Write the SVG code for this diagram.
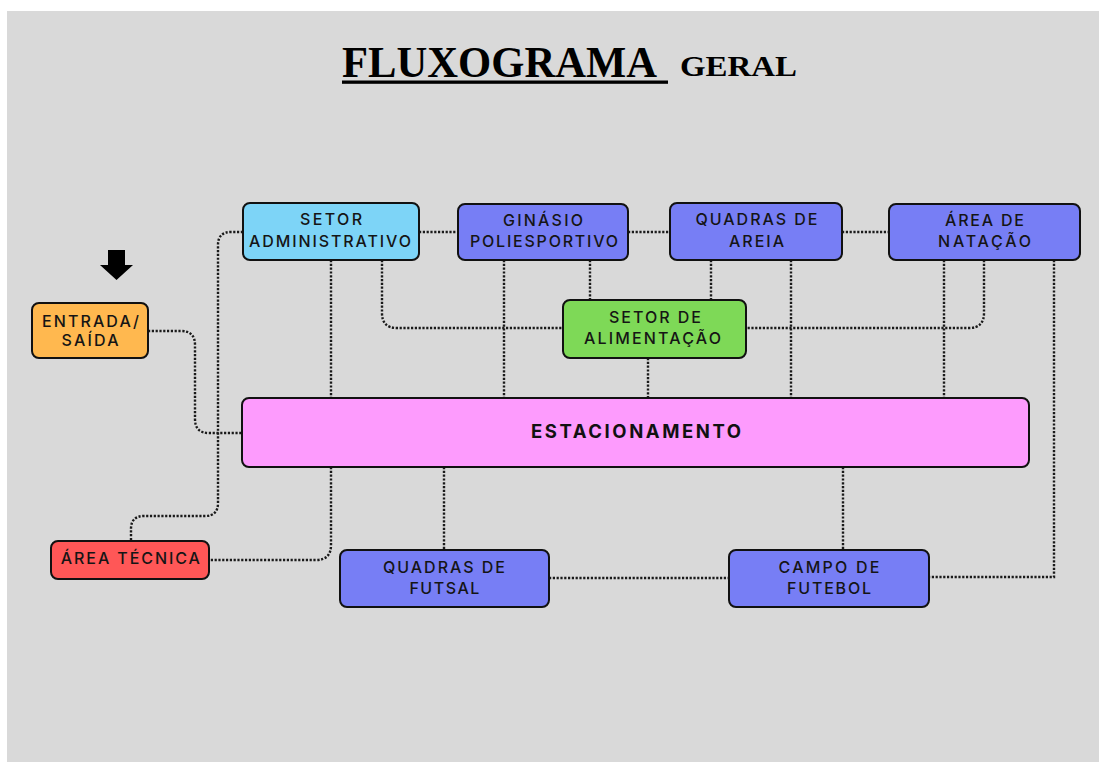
<svg xmlns="http://www.w3.org/2000/svg" width="1099" height="762" viewBox="0 0 1099 762">
<style>
.box{stroke:#111;stroke-width:2}
.lbl{font-family:Inter,"Noto Sans","DejaVu Sans",sans-serif;font-size:16px;font-weight:500;fill:#151515;text-anchor:middle}
.big{font-family:Inter,"Noto Sans","DejaVu Sans",sans-serif;font-size:18.5px;font-weight:bold;fill:#111;text-anchor:middle}
.con{fill:none;stroke:#1a1a1a;stroke-width:2.4;stroke-dasharray:2.2 1.6}
</style>
<rect x="7" y="11" width="1092" height="751" fill="#d9d9d9"/>
<g id="title">
<text x="342" y="77" font-family="Liberation Serif,serif" font-weight="bold" font-size="45" textLength="315" lengthAdjust="spacingAndGlyphs" fill="#000">FLUXOGRAMA</text>
<rect x="342" y="80.5" width="326" height="3.3" fill="#000"/>
<text x="680" y="76" font-family="Liberation Serif,serif" font-weight="bold" font-size="29" textLength="117" lengthAdjust="spacingAndGlyphs" fill="#000">GERAL</text>
</g>
<g id="connectors">
<path class="con" d="M243,232 H231 Q218,232 218,245 V503 Q218,516 205,516 H144 Q131,516 131,529 V541"/>
<path class="con" d="M148,331 H181 Q195,331 195,345 V419 Q195,433 209,433 H242"/>
<path class="con" d="M419,232 H458"/>
<path class="con" d="M628,232 H670"/>
<path class="con" d="M842,232 H889"/>
<path class="con" d="M331,260 V398"/>
<path class="con" d="M331,467 V545 Q331,560 316,560 H209"/>
<path class="con" d="M382,260 V313 Q382,328 397,328 H563"/>
<path class="con" d="M504,260 V398"/>
<path class="con" d="M590,260 V300"/>
<path class="con" d="M711,260 V300"/>
<path class="con" d="M791,260 V398"/>
<path class="con" d="M648,358 V398"/>
<path class="con" d="M944,260 V398"/>
<path class="con" d="M984,260 V313 Q984,328 969,328 H746"/>
<path class="con" d="M1054,260 V577 H929"/>
<path class="con" d="M444,467 V550"/>
<path class="con" d="M843,467 V550"/>
<path class="con" d="M549,578 H729"/>
</g>
<g id="arrow">
<polygon points="108,250 125,250 125,265 133,265 116.5,280 100,265 108,265" fill="#000"/>
</g>
<g id="entrada">
<rect class="box" x="32" y="303" width="116" height="55" rx="7" fill="#ffb84f"/>
<text class="lbl" x="90.5" y="327" textLength="97" lengthAdjust="spacing">ENTRADA/</text>
<text class="lbl" x="90" y="346" textLength="57" lengthAdjust="spacing">SAÍDA</text>
</g>
<g id="setor-administrativo">
<rect class="box" x="243" y="203" width="176" height="57" rx="7" fill="#7dd4f7"/>
<text class="lbl" x="331" y="225" textLength="62" lengthAdjust="spacing">SETOR</text>
<text class="lbl" x="330" y="247" textLength="162" lengthAdjust="spacing">ADMINISTRATIVO</text>
</g>
<g id="ginasio">
<rect class="box" x="458" y="204" width="170" height="56" rx="7" fill="#777ef5"/>
<text class="lbl" x="543" y="226" textLength="80" lengthAdjust="spacing">GINÁSIO</text>
<text class="lbl" x="544" y="247" textLength="148" lengthAdjust="spacing">POLIESPORTIVO</text>
</g>
<g id="quadras-areia">
<rect class="box" x="670" y="203" width="172" height="57" rx="7" fill="#777ef5"/>
<text class="lbl" x="756.5" y="225" textLength="122" lengthAdjust="spacing">QUADRAS DE</text>
<text class="lbl" x="756.5" y="246.5" textLength="55" lengthAdjust="spacing">AREIA</text>
</g>
<g id="natacao">
<rect class="box" x="889" y="204" width="191" height="56" rx="7" fill="#777ef5"/>
<text class="lbl" x="984.5" y="226" textLength="79" lengthAdjust="spacing">ÁREA DE</text>
<text class="lbl" x="984.5" y="247" textLength="93" lengthAdjust="spacing">NATAÇÃO</text>
</g>
<g id="alimentacao">
<rect class="box" x="563" y="300" width="183" height="58" rx="7" fill="#7ed957"/>
<text class="lbl" x="655" y="323" textLength="92" lengthAdjust="spacing">SETOR DE</text>
<text class="lbl" x="652.5" y="344" textLength="137" lengthAdjust="spacing">ALIMENTAÇÃO</text>
</g>
<g id="estacionamento">
<rect class="box" x="242" y="398" width="787" height="69" rx="7" fill="#fd9bfd"/>
<text class="big" x="636" y="438" textLength="210" lengthAdjust="spacing">ESTACIONAMENTO</text>
</g>
<g id="area-tecnica">
<rect class="box" x="51" y="541" width="158" height="38" rx="7" fill="#ff5757"/>
<text class="lbl" x="130.3" y="563.5" textLength="139" lengthAdjust="spacing">ÁREA TÉCNICA</text>
</g>
<g id="futsal">
<rect class="box" x="340" y="550" width="209" height="57" rx="7" fill="#777ef5"/>
<text class="lbl" x="444" y="572.5" textLength="122" lengthAdjust="spacing">QUADRAS DE</text>
<text class="lbl" x="444.4" y="594" textLength="70" lengthAdjust="spacing">FUTSAL</text>
</g>
<g id="futebol">
<rect class="box" x="729" y="550" width="200" height="57" rx="7" fill="#777ef5"/>
<text class="lbl" x="829" y="572.5" textLength="101" lengthAdjust="spacing">CAMPO DE</text>
<text class="lbl" x="829" y="594" textLength="84" lengthAdjust="spacing">FUTEBOL</text>
</g>
</svg>
